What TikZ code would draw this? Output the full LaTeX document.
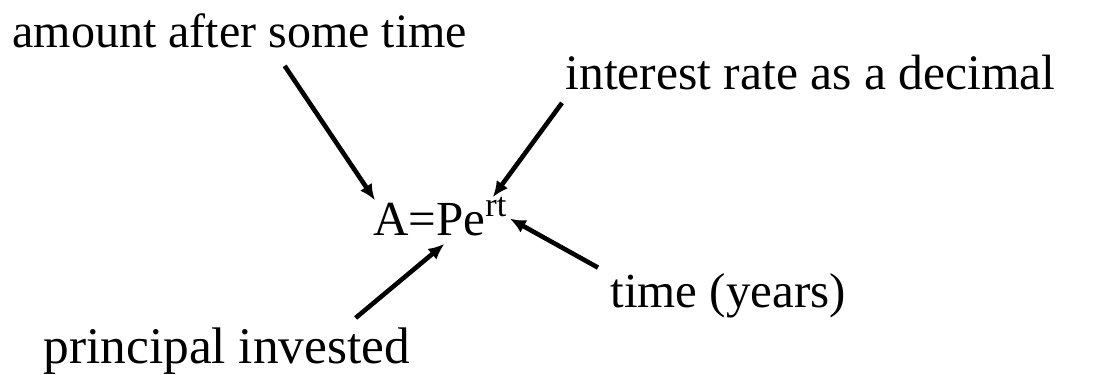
\documentclass[tikz,border=0pt]{standalone}
\usepackage{fontspec}
\setmainfont{Liberation Serif}
\usepackage{tikz}
\usetikzlibrary{arrows.meta,calc}
\tikzset{
  lbl/.style={inner sep=0pt, anchor=base west, font=\fontsize{#1}{29}\selectfont},
  lbl/.default=24.5,
  arr/.style={-{Latex[length=8pt,width=7pt]}, line width=2.3pt, draw=black},
}
\begin{document}
\begin{tikzpicture}[x=0.5pt, y=-0.5pt]
    \useasboundingbox (0,0) rectangle (1095,374);
    \node[lbl] (form) at (373,235) {A=Pe\textsuperscript{rt}};
    \node[lbl=24] (amt)  at (12,48)   {amount after some time};
    \node[lbl=24.8] (rate) at (565,90)  {interest rate as a decimal};
    \node[lbl=24.5] (yrs)  at (610,307) {time (years)};
    \node[lbl=25.7] (prin) at (43,363)  {principal invested};
    \draw[arr] ($(amt.south)+(45,17)$) -- ($(form.north west)+(2,3)$);
    \draw[arr] ($(rate.south west)+(-3,12)$) -- ($(form.north east)+(-15,0)$);
    \draw[arr] ($(yrs.north west)+(-12,-5)$) -- ($(form.east)+(2,2)$);
    \draw[arr] ($(prin.north east)+(-55,-9)$) -- ($(form.south)+(4,8)$);
  \end{tikzpicture}
\end{document}
